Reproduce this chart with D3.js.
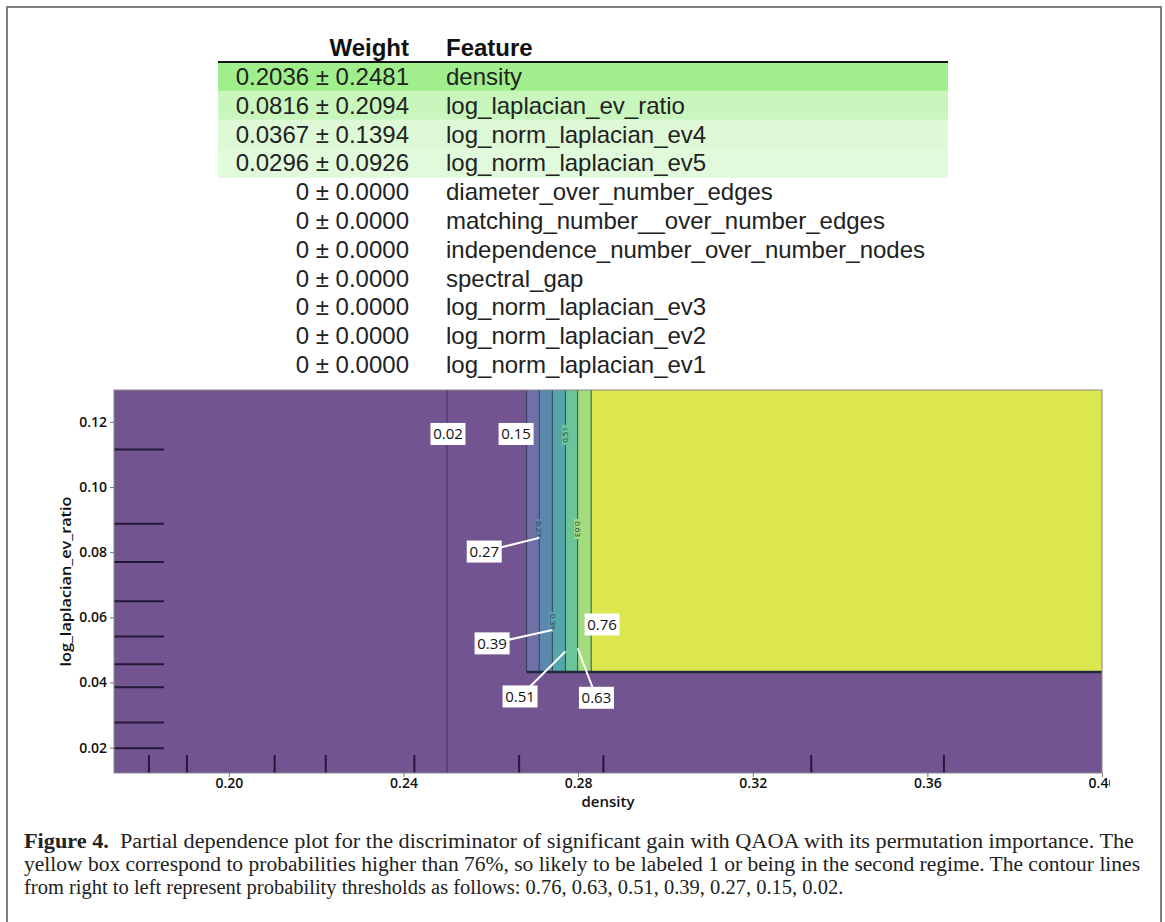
<!DOCTYPE html>
<html>
<head>
<meta charset="utf-8">
<script src="https://cdn.jsdelivr.net/npm/d3@7"></script>
<style>
  body { margin: 0; background: #fff; }
  svg { display: block; }
</style>
</head>
<body>
<div id="chart"></div>
<script>
// permutation importance table
const weightLabels = ["0.2036 ± 0.2481", "0.0816 ± 0.2094", "0.0367 ± 0.1394", "0.0296 ± 0.0926",
  "0 ± 0.0000", "0 ± 0.0000", "0 ± 0.0000", "0 ± 0.0000", "0 ± 0.0000", "0 ± 0.0000", "0 ± 0.0000"];
const weightValues = [0.2036, 0.0816, 0.0367, 0.0296, 0, 0, 0, 0, 0, 0, 0];
const features = ["density", "log_laplacian_ev_ratio", "log_norm_laplacian_ev4", "log_norm_laplacian_ev5",
  "diameter_over_number_edges", "matching_number__over_number_edges", "independence_number_over_number_nodes",
  "spectral_gap", "log_norm_laplacian_ev3", "log_norm_laplacian_ev2", "log_norm_laplacian_ev1"];

// partial dependence contours (density where each level is crossed)
const levels = [0.02, 0.15, 0.27, 0.39, 0.51, 0.63, 0.76];
const levelDensity = [0.2500, 0.2682, 0.2711, 0.2741, 0.2771, 0.2799, 0.2830];
const regimeRatio = 0.0432; // below this ratio the probability drops again

// rug marks (deciles of the training data)
const densityRug = [0.1817, 0.1904, 0.2105, 0.2222, 0.2425, 0.2665, 0.2858, 0.3334, 0.3638];
const ratioRug = [0.0198, 0.0277, 0.0385, 0.0456, 0.0541, 0.0649, 0.0770, 0.0887, 0.1115];

// ticks
const xTicks = [0.20, 0.24, 0.28, 0.32, 0.36, 0.40];
const yTicks = [0.02, 0.04, 0.06, 0.08, 0.10, 0.12];

// boxed contour labels and where their leaders point
const calloutText = ["0.02", "0.15", "0.27", "0.39", "0.76", "0.51", "0.63"];
const calloutDensity = [0.2502, 0.2658, 0.2585, 0.2603, 0.2855, 0.2667, 0.2842];
const calloutRatio = [0.1163, 0.1163, 0.0802, 0.0520, 0.0578, 0.0357, 0.0353];
const calloutTipRatio = [null, null, 0.0844, 0.0561, null, 0.0495, 0.0505];

// small inline labels on the contour lines
const inlineLevels = [0.51, 0.27, 0.63, 0.39];
const inlineRatio = [0.1160, 0.0871, 0.0871, 0.0586];
const inlineRotate = [-90, 90, 90, 90];

const caption = [
  "Partial dependence plot for the discriminator of significant gain with QAOA with its permutation importance. The",
  "yellow box correspond to probabilities higher than 76%, so likely to be labeled 1 or being in the second regime. The contour lines",
  "from right to left represent probability thresholds as follows: 0.76, 0.63, 0.51, 0.39, 0.27, 0.15, 0.02."
];

const W = 1165, H = 922;
const svg = d3.select("#chart").append("svg").attr("width", W).attr("height", H);

// outer frame
svg.append("rect")
  .attr("x", 7).attr("y", 7).attr("width", 1154).attr("height", 1000)
  .attr("fill", "none").attr("stroke", "#7f7f7f").attr("stroke-width", 2);

// ---------- table ----------
const tableLeft = 218, tableRight = 948, weightRight = 409, featureLeft = 446;
const rowY = d3.scaleLinear().domain([0, 1]).range([62, 90.8]);
const rowFill = d3.scalePow().exponent(0.6).domain([0, d3.max(weightValues)]).range(["#ffffff", "#a0ef8c"]);

const table = svg.append("g").style("font-family", "'Liberation Sans', Arial, sans-serif");

table.selectAll("rect.row")
  .data(weightValues)
  .enter().append("rect")
  .attr("class", "row")
  .attr("x", tableLeft)
  .attr("y", (d, i) => rowY(i))
  .attr("width", tableRight - tableLeft)
  .attr("height", rowY(1) - rowY(0) + 0.5)
  .attr("fill", d => d > 0 ? rowFill(d) : "none");

table.append("line")
  .attr("x1", tableLeft).attr("x2", tableRight)
  .attr("y1", 62).attr("y2", 62)
  .attr("stroke", "#111").attr("stroke-width", 2);

table.append("text").attr("x", weightRight).attr("y", 56)
  .attr("text-anchor", "end").attr("font-size", 24).attr("font-weight", "bold").attr("fill", "#111")
  .text("Weight");
table.append("text").attr("x", featureLeft).attr("y", 56)
  .attr("font-size", 24).attr("font-weight", "bold").attr("fill", "#111")
  .text("Feature");

table.selectAll("text.w")
  .data(weightLabels)
  .enter().append("text")
  .attr("class", "w")
  .attr("x", weightRight)
  .attr("y", (d, i) => rowY(i) + 23)
  .attr("text-anchor", "end")
  .attr("font-size", 24).attr("fill", "#222")
  .text(d => d);

table.selectAll("text.f")
  .data(features)
  .enter().append("text")
  .attr("class", "f")
  .attr("x", featureLeft)
  .attr("y", (d, i) => rowY(i) + 23)
  .attr("font-size", 24).attr("fill", "#222")
  .text(d => d);

// ---------- partial dependence plot ----------
const x = d3.scaleLinear().domain([0.1737, 0.4]).range([114, 1102]);
const y = d3.scaleLinear().domain([0.0122, 0.1298]).range([773, 390]);
const [xMin, xMax] = x.domain();
const [yMin, yMax] = y.domain();

const bandColor = d3.scaleOrdinal()
  .domain(levels)
  .range(["#725490", "#6e70a6", "#5b89ae", "#55a6aa", "#6cc49b", "#a2dc7d", "#dce64f"]);

const plot = svg.append("g");

// base (lowest probability)
plot.append("rect")
  .attr("x", x(xMin)).attr("y", y(yMax))
  .attr("width", x(xMax) - x(xMin)).attr("height", y(yMin) - y(yMax))
  .attr("fill", bandColor(levels[0]));

// filled bands above each level
plot.selectAll("rect.band")
  .data(levels.slice(1).map((lv, i) => ({ level: lv, density: levelDensity[i + 1] })))
  .enter().append("rect")
  .attr("class", "band")
  .attr("x", d => x(d.density))
  .attr("y", y(yMax))
  .attr("width", d => x(xMax) - x(d.density))
  .attr("height", y(regimeRatio) - y(yMax))
  .attr("fill", d => bandColor(d.level));

// contour lines
const line = d3.line().x(d => x(d[0])).y(d => y(d[1]));
plot.selectAll("path.contour")
  .data(levels.map((lv, i) => {
    if (i === 0) return [[levelDensity[i], yMax], [levelDensity[i], yMin]];
    return [[levelDensity[i], yMax], [levelDensity[i], regimeRatio], [xMax, regimeRatio]];
  }))
  .enter().append("path")
  .attr("class", "contour")
  .attr("d", line)
  .attr("fill", "none")
  .attr("stroke", (d, i) => i === 0 ? "#3f2d5c" : "#2f3350")
  .attr("stroke-width", 1)
  .attr("stroke-opacity", 0.85);

// the regime boundary where all lines pile up
plot.append("line")
  .attr("x1", x(levelDensity[1])).attr("x2", x(xMax))
  .attr("y1", y(regimeRatio)).attr("y2", y(regimeRatio))
  .attr("stroke", "#1f2a3c").attr("stroke-width", 2.5);

// inline labels
const inl = plot.selectAll("g.inl")
  .data(inlineLevels)
  .enter().append("g")
  .attr("class", "inl")
  .attr("transform", (d, i) => `translate(${x(levelDensity[levels.indexOf(d)])},${y(inlineRatio[i])}) rotate(${inlineRotate[i]})`);
inl.append("rect")
  .attr("x", -10).attr("y", -3.5).attr("width", 20).attr("height", 7)
  .attr("fill", d => bandColor(d));
inl.append("text")
  .attr("text-anchor", "middle").attr("dy", "0.35em")
  .attr("font-family", "'Open Sans', sans-serif").attr("font-size", 8).attr("fill", "#2b2f48")
  .text(d => d3.format(".2f")(d));

// leaders for boxed labels
calloutText.forEach((t, i) => {
  if (calloutTipRatio[i] === null) return;
  const lvIdx = levels.indexOf(+t);
  plot.append("line")
    .attr("x1", x(calloutDensity[i])).attr("y1", y(calloutRatio[i]))
    .attr("x2", x(levelDensity[lvIdx])).attr("y2", y(calloutTipRatio[i]))
    .attr("stroke", "#fff").attr("stroke-width", 2);
});

// boxed labels
const box = plot.selectAll("g.callout")
  .data(calloutText)
  .enter().append("g")
  .attr("class", "callout")
  .attr("transform", (d, i) => `translate(${x(calloutDensity[i])},${y(calloutRatio[i])})`);
box.append("rect")
  .attr("x", -17.5).attr("y", -11).attr("width", 35).attr("height", 22)
  .attr("fill", "#fff");
box.append("text")
  .attr("text-anchor", "middle").attr("dy", "0.36em")
  .attr("font-family", "'Open Sans', sans-serif").attr("font-size", 15).attr("fill", "#111")
  .text(d => d);

// rug marks
plot.selectAll("line.rugx")
  .data(densityRug)
  .enter().append("line")
  .attr("class", "rugx")
  .attr("x1", d => x(d)).attr("x2", d => x(d))
  .attr("y1", y(yMin)).attr("y2", y(yMin) - 18)
  .attr("stroke", "#24183a").attr("stroke-width", 2);
plot.selectAll("line.rugy")
  .data(ratioRug)
  .enter().append("line")
  .attr("class", "rugy")
  .attr("y1", d => y(d)).attr("y2", d => y(d))
  .attr("x1", x(xMin)).attr("x2", x(xMin) + 50)
  .attr("stroke", "#24183a").attr("stroke-width", 2);

// axes frame
plot.append("rect")
  .attr("x", x(xMin)).attr("y", y(yMax))
  .attr("width", x(xMax) - x(xMin)).attr("height", y(yMin) - y(yMax))
  .attr("fill", "none").attr("stroke", "#8a8a8a").attr("stroke-width", 1);

svg.append("defs").append("clipPath").attr("id", "crop")
  .append("rect").attr("x", 0).attr("y", 0).attr("width", 1110).attr("height", H);

const xAxis = svg.append("g")
  .attr("clip-path", "url(#crop)")
  .attr("transform", `translate(0,${y(yMin)})`)
  .call(d3.axisBottom(x).tickValues(xTicks).tickFormat(d3.format(".2f")).tickSize(4).tickPadding(1));
const yAxis = svg.append("g")
  .attr("transform", `translate(${x(xMin)},0)`)
  .call(d3.axisLeft(y).tickValues(yTicks).tickFormat(d3.format(".2f")).tickSize(4).tickPadding(3));

[xAxis, yAxis].forEach(a => {
  a.select(".domain").remove();
  a.selectAll(".tick line").attr("stroke", "#777");
  a.selectAll(".tick text")
    .attr("font-family", "'Open Sans', sans-serif")
    .attr("font-size", 14).attr("font-weight", 600).attr("fill", "#111");
});

svg.append("text")
  .attr("x", (x(xMin) + x(xMax)) / 2).attr("y", 807)
  .attr("text-anchor", "middle")
  .attr("font-family", "'Open Sans', sans-serif").attr("font-size", 15).attr("font-weight", 600).attr("fill", "#111")
  .text("density");

svg.append("text")
  .attr("transform", `translate(71,${(y(yMin) + y(yMax)) / 2}) rotate(-90)`)
  .attr("text-anchor", "middle")
  .attr("font-family", "'Open Sans', sans-serif").attr("font-size", 15).attr("font-weight", 600).attr("fill", "#111")
  .attr("textLength", 170).attr("lengthAdjust", "spacingAndGlyphs")
  .text("log_laplacian_ev_ratio");

// ---------- caption ----------
const cap = svg.append("g")
  .attr("font-family", "'Liberation Serif', 'Times New Roman', serif")
  .attr("font-size", 20.5).attr("fill", "#222");
const capBase = [848, 871, 894];
const capWidth = [1110, 1116, null];
caption.forEach((line, i) => {
  const t = cap.append("text").attr("x", 24).attr("y", capBase[i]);
  if (capWidth[i]) t.attr("textLength", capWidth[i]).attr("lengthAdjust", "spacingAndGlyphs");
  if (i === 0) {
    t.append("tspan").attr("font-weight", "bold").text("Figure 4.");
    t.append("tspan").text("\u2002" + line);
  } else {
    t.text(line);
  }
});
</script>
</body>
</html>
